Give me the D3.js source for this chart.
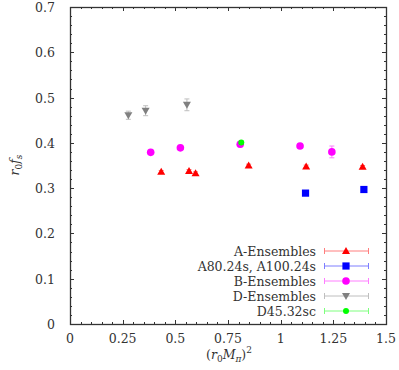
<!DOCTYPE html>
<html>
<head>
<meta charset="utf-8">
<script src="https://cdn.jsdelivr.net/npm/d3@7"></script>
<style>
body { margin: 0; background: #fff; }
</style>
</head>
<body>
<svg id="chart" width="399" height="370" font-family="'DejaVu Serif', serif"></svg>
<script>
// data
const aX = [0.433, 0.565, 0.596, 0.848, 1.121, 1.389];
const aY = [0.336, 0.338, 0.333, 0.350, 0.348, 0.347];
const aErr = [0.003, 0.003, 0.003, 0.003, 0.003, 0.003];

const sX = [1.118, 1.395];
const sY = [0.289, 0.297];
const sErr = [0.003, 0.003];

const bX = [0.383, 0.524, 0.808, 1.092, 1.243];
const bY = [0.379, 0.389, 0.397, 0.393, 0.380];
const bErr = [0.004, 0.004, 0.006, 0.004, 0.013];

const dX = [0.277, 0.359, 0.555];
const dY = [0.461, 0.471, 0.484];
const dErr = [0.009, 0.011, 0.013];

const gX = [0.813];
const gY = [0.401];
const gErr = [0.003];

const xTicks = [0, 0.25, 0.5, 0.75, 1, 1.25, 1.5];
const xTickLabels = ["0", "0.25", "0.5", "0.75", "1", "1.25", "1.5"];
const yTicks = [0, 0.1, 0.2, 0.3, 0.4, 0.5, 0.6, 0.7];
const yTickLabels = ["0", "0.1", "0.2", "0.3", "0.4", "0.5", "0.6", "0.7"];

const legendNames = ["A-Ensembles", "A80.24s, A100.24s", "B-Ensembles", "D-Ensembles", "D45.32sc"];

const chart = d3.select("#chart");
const pLeft = 70, pRight = 386, pTop = 7, pBottom = 324;
const fontSize = 12.5;
const subSize = 9;

const x = d3.scaleLinear().domain([0, 1.5]).range([pLeft, pRight]);
const y = d3.scaleLinear().domain([0, 0.7]).range([pBottom, pTop]);

const series = [
	{ xs: aX, ys: aY, es: aErr, color: "#ff0000", shape: "up" },
	{ xs: sX, ys: sY, es: sErr, color: "#0000ff", shape: "square" },
	{ xs: bX, ys: bY, es: bErr, color: "#ff00ff", shape: "circle" },
	{ xs: dX, ys: dY, es: dErr, color: "#808080", shape: "down" },
	{ xs: gX, ys: gY, es: gErr, color: "#00ff00", shape: "small" }
];

// axes: minor ticks every fifth of a major step, mirrored on all sides
const axisColor = "#333";
const frame = chart.append("g").attr("stroke", axisColor).attr("stroke-width", 1);

const xMinor = d3.range(0, 1.5001, 0.05);
const yMinor = d3.range(0, 0.7001, 0.02);

function isMajor(v, step) {
	return Math.abs(v / step - Math.round(v / step)) < 1e-6;
}

xMinor.forEach(function(v) {
	const len = isMajor(v, 0.25) ? 4 : 2;
	const px = Math.round(x(v)) + 0.5;
	frame.append("line").attr("x1", px).attr("x2", px).attr("y1", pBottom).attr("y2", pBottom - len);
	frame.append("line").attr("x1", px).attr("x2", px).attr("y1", pTop).attr("y2", pTop + len);
});
yMinor.forEach(function(v) {
	const len = isMajor(v, 0.1) ? 4 : 2;
	const py = Math.round(y(v)) + 0.5;
	frame.append("line").attr("y1", py).attr("y2", py).attr("x1", pLeft).attr("x2", pLeft + len);
	frame.append("line").attr("y1", py).attr("y2", py).attr("x1", pRight).attr("x2", pRight - len);
});

frame.append("rect")
	.attr("x", pLeft + 0.5).attr("y", pTop + 0.5)
	.attr("width", pRight - pLeft).attr("height", pBottom - pTop)
	.attr("fill", "none").attr("stroke-width", 1.3);

chart.append("g").selectAll("text")
	.data(xTicks)
	.enter()
	.append("text")
	.attr("x", function(d) { return x(d); })
	.attr("y", pBottom + 19)
	.attr("text-anchor", "middle")
	.attr("font-size", fontSize)
	.attr("fill", "#333")
	.text(function(d, i) { return xTickLabels[i]; });

chart.append("g").selectAll("text")
	.data(yTicks)
	.enter()
	.append("text")
	.attr("x", pLeft - 15)
	.attr("y", function(d) { return y(d) + 5; })
	.attr("text-anchor", "end")
	.attr("font-size", fontSize)
	.attr("fill", "#333")
	.text(function(d, i) { return yTickLabels[i]; });

// axis titles
const xlabel = chart.append("text")
	.attr("x", 229).attr("y", 359)
	.attr("text-anchor", "middle")
	.attr("font-size", fontSize)
	.attr("fill", "#333");
xlabel.append("tspan").text("(");
xlabel.append("tspan").attr("font-style", "italic").text("r");
xlabel.append("tspan").attr("font-size", subSize).attr("dy", 3).text("0");
xlabel.append("tspan").attr("font-style", "italic").attr("dy", -3).text("M");
xlabel.append("tspan").attr("font-style", "italic").attr("font-size", subSize).attr("dy", 3).text("π");
xlabel.append("tspan").attr("dy", -3).text(")");
xlabel.append("tspan").attr("font-size", subSize).attr("dy", -6).text("2");

const ylabel = chart.append("text")
	.attr("transform", "translate(19, 165) rotate(-90)")
	.attr("text-anchor", "middle")
	.attr("font-size", fontSize)
	.attr("fill", "#333");
ylabel.append("tspan").attr("font-style", "italic").text("r");
ylabel.append("tspan").attr("font-size", subSize).attr("dy", 3).text("0");
ylabel.append("tspan").attr("font-style", "italic").attr("dy", -3).text("f");
ylabel.append("tspan").attr("font-style", "italic").attr("font-size", subSize).attr("dy", 3).text("s");

function drawMarker(g, shape, cx, cy, color) {
	if (shape === "circle") {
		g.append("circle").attr("cx", cx).attr("cy", cy).attr("r", 3.8).attr("fill", color);
	} else if (shape === "small") {
		g.append("circle").attr("cx", cx).attr("cy", cy).attr("r", 3).attr("fill", color);
	} else if (shape === "square") {
		g.append("rect").attr("x", cx - 3.6).attr("y", cy - 3.6).attr("width", 7.2).attr("height", 7.2).attr("fill", color);
	} else if (shape === "up") {
		g.append("path").attr("d", "M" + cx + "," + (cy - 4) + "L" + (cx + 4) + "," + (cy + 3) + "L" + (cx - 4) + "," + (cy + 3) + "Z").attr("fill", color);
	} else if (shape === "down") {
		g.append("path").attr("d", "M" + cx + "," + (cy + 4) + "L" + (cx + 4) + "," + (cy - 3) + "L" + (cx - 4) + "," + (cy - 3) + "Z").attr("fill", color);
	}
}

const marks = chart.append("g");
series.forEach(function(s) {
	s.xs.forEach(function(xv, i) {
		const cx = x(xv), y1 = y(s.ys[i] - s.es[i]), y2 = y(s.ys[i] + s.es[i]);
		const eb = marks.append("g").attr("stroke", s.color).attr("stroke-width", 1).attr("opacity", 0.5);
		eb.append("line").attr("x1", cx).attr("x2", cx).attr("y1", y1).attr("y2", y2);
		eb.append("line").attr("x1", cx - 2.5).attr("x2", cx + 2.5).attr("y1", y1).attr("y2", y1);
		eb.append("line").attr("x1", cx - 2.5).attr("x2", cx + 2.5).attr("y1", y2).attr("y2", y2);
		drawMarker(marks, s.shape, cx, y(s.ys[i]), s.color);
	});
});

// legend
const legend = chart.append("g");
legendNames.forEach(function(name, i) {
	const ly = 251 + i * 15;
	const s = series[i];
	legend.append("text")
		.attr("x", 316).attr("y", ly + 5)
		.attr("text-anchor", "end")
		.attr("font-size", fontSize)
		.attr("fill", "#333")
		.text(name);
	const lg = legend.append("g").attr("stroke", s.color).attr("stroke-width", 1).attr("opacity", 0.5);
	lg.append("line").attr("x1", 324.5).attr("x2", 368.5).attr("y1", ly).attr("y2", ly);
	lg.append("line").attr("x1", 324.5).attr("x2", 324.5).attr("y1", ly - 3).attr("y2", ly + 3);
	lg.append("line").attr("x1", 368.5).attr("x2", 368.5).attr("y1", ly - 3).attr("y2", ly + 3);
	drawMarker(legend, s.shape, 346, ly, s.color);
});
</script>
</body>
</html>
